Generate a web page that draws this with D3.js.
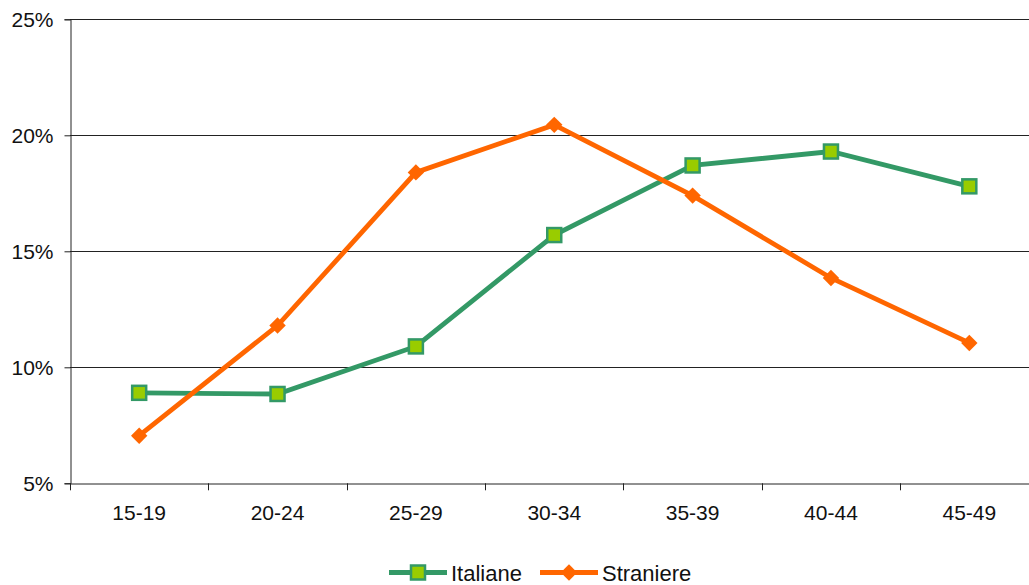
<!DOCTYPE html>
<html><head><meta charset="utf-8">
<script src="https://cdn.jsdelivr.net/npm/d3@7"></script>
<style>body{margin:0;background:#fff;}svg{display:block;font-family:"Liberation Sans",Arial,sans-serif;}</style>
</head><body><svg id="c" width="1029" height="585"></svg>
<script>
const categories = ["15-19","20-24","25-29","30-34","35-39","40-44","45-49"];
const italiane = [8.9, 8.85, 10.9, 15.7, 18.7, 19.3, 17.8];
const straniere = [7.05, 11.8, 18.4, 20.45, 17.4, 13.85, 11.05];
const yTicks = [5, 10, 15, 20, 25];
const seriesNames = ["Italiane", "Straniere"];

(function () {
const svg = d3.select("#c");
const pL = 70, pR = 1038.5, pT = 19.3, pB = 483.3;
const x = d3.scaleBand().domain(categories).range([pL, pR]);
const y = d3.scaleLinear().domain([5, 25]).range([pB, pT]);
const FF = "Liberation Sans, Arial, sans-serif";

// gridlines
svg.append("g").selectAll("line").data(yTicks.filter(d => d > 5)).join("line")
  .attr("x1", pL).attr("x2", pR)
  .attr("y1", d => Math.round(y(d)) + 0.5).attr("y2", d => Math.round(y(d)) + 0.5)
  .attr("stroke", "#222").attr("stroke-width", 1);

// y axis
const ya = svg.append("g").attr("transform", `translate(${pL + 0.5},0)`)
  .call(d3.axisLeft(y).tickValues(yTicks).tickFormat(d => d + "%").tickSize(6).tickPadding(11));
ya.select(".domain").attr("stroke", "#222");
ya.selectAll(".tick line").attr("stroke", "#222");
ya.selectAll("text").attr("font-size", 21).attr("fill", "#111").attr("font-family", FF);

// x axis
const xa = svg.append("g").attr("transform", `translate(0,${Math.round(pB) + 0.5})`)
  .call(d3.axisBottom(x).tickSize(0).tickPadding(22));
xa.select(".domain").attr("stroke", "#222");
xa.selectAll("text").attr("font-size", 21).attr("fill", "#111").attr("font-family", FF);
// boundary ticks
const bounds = d3.range(categories.length + 1).map(i => pL + i * x.step());
svg.append("g").selectAll("line").data(bounds).join("line")
  .attr("x1", d => Math.round(d) + 0.5).attr("x2", d => Math.round(d) + 0.5)
  .attr("y1", pB).attr("y2", pB + 7).attr("stroke", "#222");

const cx = d => x(d) + x.bandwidth() / 2;
const line = d3.line().x(d => cx(d[0])).y(d => y(d[1]));

const green = "#339966", lime = "#99cc00", orange = "#ff6600";

svg.append("path").datum(categories.map((c, i) => [c, italiane[i]]))
  .attr("d", line).attr("fill", "none").attr("stroke", green).attr("stroke-width", 4.8);
svg.append("path").datum(categories.map((c, i) => [c, straniere[i]]))
  .attr("d", line).attr("fill", "none").attr("stroke", orange).attr("stroke-width", 4.8);

// Straniere diamonds
svg.append("g").selectAll("rect").data(straniere).join("rect")
  .attr("x", -5.8).attr("y", -5.8).attr("width", 11.6).attr("height", 11.6)
  .attr("fill", orange)
  .attr("transform", (d, i) => `translate(${cx(categories[i])},${y(d)}) rotate(45)`);

// Italiane squares
svg.append("g").selectAll("rect").data(italiane).join("rect")
  .attr("x", (d, i) => cx(categories[i]) - 7).attr("y", d => y(d) - 7)
  .attr("width", 14).attr("height", 14)
  .attr("fill", lime).attr("stroke", green).attr("stroke-width", 2.5);

// legend
const ly = 572.5;
const lg = svg.append("g");
lg.append("line").attr("x1", 389).attr("x2", 447).attr("y1", ly).attr("y2", ly).attr("stroke", green).attr("stroke-width", 4.8);
lg.append("rect").attr("x", 418 - 7).attr("y", ly - 7).attr("width", 14).attr("height", 14).attr("fill", lime).attr("stroke", green).attr("stroke-width", 2.5);
lg.append("text").attr("x", 451).attr("y", 580.5).attr("font-size", 22).attr("fill", "#111").attr("font-family", FF).text(seriesNames[0]);
lg.append("line").attr("x1", 540).attr("x2", 598).attr("y1", ly).attr("y2", ly).attr("stroke", orange).attr("stroke-width", 4.8);
lg.append("rect").attr("x", -5.8).attr("y", -5.8).attr("width", 11.6).attr("height", 11.6).attr("fill", orange)
  .attr("transform", `translate(569,${ly}) rotate(45)`);
lg.append("text").attr("x", 602).attr("y", 580.5).attr("font-size", 22).attr("fill", "#111").attr("font-family", FF).text(seriesNames[1]);
})();
</script></body></html>
